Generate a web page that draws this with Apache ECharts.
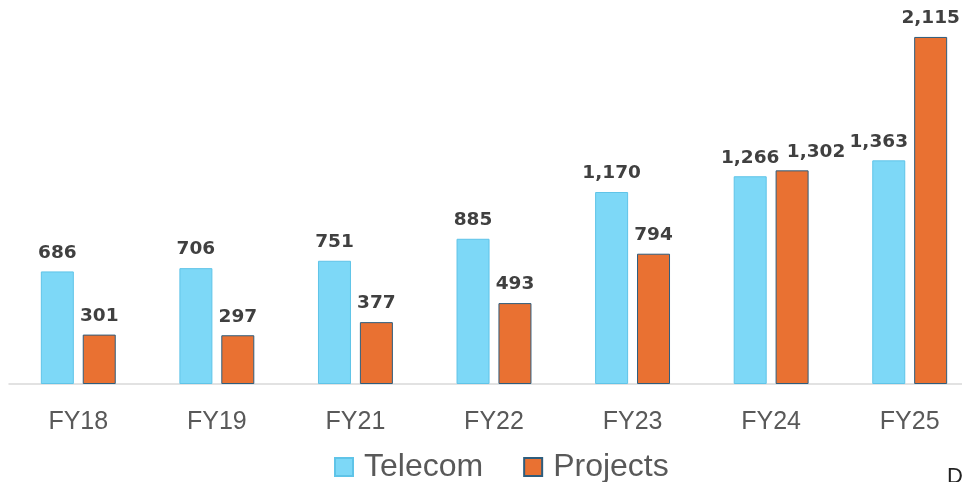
<!DOCTYPE html>
<html>
<head>
<meta charset="utf-8">
<script src="https://cdn.jsdelivr.net/npm/echarts@6/dist/echarts.min.js"></script>
<style>
  html, body { margin: 0; padding: 0; background: #fff; }
  #chart { width: 962px; height: 482px; }
</style>
</head>
<body>
<div id="chart"></div>
<script>
// 财年与两条业务线
const years = ['FY18', 'FY19', 'FY21', 'FY22', 'FY23', 'FY24', 'FY25'];
const telecom = [686, 706, 751, 885, 1170, 1266, 1363];
const projects = [301, 297, 377, 493, 794, 1302, 2115];

const chart = echarts.init(document.getElementById('chart'));

const labelStyle = {
    show: true,
    position: 'top',
    distance: 9,
    color: '#404040',
    fontWeight: 'bold',
    fontSize: 18.5,
    fontFamily: 'DejaVu Sans',
    formatter: p => p.value.toLocaleString('en-US')
};

// 原图里 FY24/FY25 有两个标签被手动挪开，避免重叠
const nudge = (i, dx) => ({ label: { offset: [dx, 0] } });
const telecomData = telecom.map((v, i) => i === 6 ? Object.assign({ value: v }, nudge(i, -10)) : v);
const projectsData = projects.map((v, i) => i === 5 ? Object.assign({ value: v }, nudge(i, 24)) : v);

const option = {
    animation: false,
    // 原图右侧被裁掉，所以网格比画布更宽
    grid: { left: 9, width: 970, top: 23, height: 361, outerBoundsMode: 'none' },
    legend: {
        top: 446,
        left: 329,
        itemWidth: 18,
        itemHeight: 18,
        itemGap: 40,
        icon: 'rect',
        textStyle: { fontSize: 32, color: '#595959', fontFamily: 'Liberation Sans', padding: [0, 0, 0, 6] },
        data: ['Telecom', 'Projects']
    },
    xAxis: {
        type: 'category',
        data: years,
        axisTick: { show: false },
        axisLine: { lineStyle: { color: '#d9d9d9', width: 1.5 } },
        axisLabel: { color: '#595959', fontSize: 25, margin: 26, fontFamily: 'Liberation Sans' }
    },
    yAxis: {
        type: 'value',
        min: 0,
        max: 2200,
        show: false,
        splitLine: { show: false }
    },
    series: [
        {
            name: 'Telecom',
            type: 'bar',
            data: telecomData,
            barWidth: 33,
            barGap: '27%',
            itemStyle: { color: '#7dd8f7', borderColor: '#5fc4e8', borderWidth: 1 },
            label: labelStyle
        },
        {
            name: 'Projects',
            type: 'bar',
            data: projectsData,
            barWidth: 33,
            itemStyle: { color: '#e97132', borderColor: '#2e5d7d', borderWidth: 1 },
            label: labelStyle
        }
    ],
    graphic: [{
        type: 'text',
        left: 947,
        top: 466,
        style: { text: 'D', fontSize: 22, fill: '#222', fontFamily: 'Liberation Sans' }
    }]
};

chart.setOption(option);
</script>
</body>
</html>
